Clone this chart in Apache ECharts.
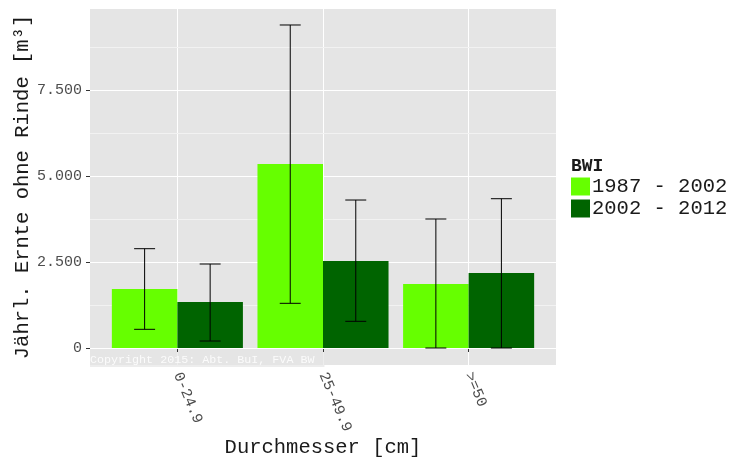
<!DOCTYPE html>
<html>
<head>
<meta charset="utf-8">
<script src="https://cdn.jsdelivr.net/npm/echarts@6/dist/echarts.min.js"></script>
<style>html,body{margin:0;padding:0;background:#fff}#c{width:731px;height:459px}</style>
</head>
<body>
<div id="c"></div>
<script>
var categories = ['0-24.9', '25-49.9', '>=50'];
var seriesNames = ['1987 - 2002', '2002 - 2012'];
var values1987 = [1715, 5349, 1860];
var low1987 = [543, 1299, 0];
var high1987 = [2887, 9390, 3750];
var values2002 = [1337, 2529, 2180];
var low2002 = [203, 776, 0];
var high2002 = [2442, 4302, 4340];
var yTicks = [0, 2500, 5000, 7500];
var yTickLabels = ['0', '2.500', '5.000', '7.500'];
var yMinorTicks = [1250, 3750, 6250, 8750];

var FONT = 'Liberation Mono';
var colors = ['#66ff00', '#006400'];
var barW = 0.45;
var whisker = 0.072;
var Y_MIN = -494, Y_MAX = 9855;

function barData(vals, side) {
  return vals.map(function (v, i) { return [i + 1, v, side]; });
}
function errData(lo, hi, side) {
  return lo.map(function (l, i) { return [i + 1 + side * barW / 2, l, hi[i]]; });
}
function renderBar(params, api) {
  var c = api.value(0), v = api.value(1), side = api.value(2);
  var x0 = side < 0 ? c - barW : c;
  var x1 = side < 0 ? c : c + barW;
  var p0 = api.coord([x0, v]);
  var p1 = api.coord([x1, 0]);
  return { type: 'rect', shape: { x: p0[0], y: p0[1], width: p1[0] - p0[0], height: p1[1] - p0[1] },
    style: { fill: api.visual('color') } };
}
function renderErr(params, api) {
  var x = api.value(0), lo = api.value(1), hi = api.value(2);
  var a = api.coord([x, hi]), b = api.coord([x, lo]);
  var l = api.coord([x - whisker, hi]), r = api.coord([x + whisker, hi]);
  var l2 = api.coord([x - whisker, lo]), r2 = api.coord([x + whisker, lo]);
  var st = { stroke: '#000', lineWidth: 1 };
  return { type: 'group', children: [
    { type: 'line', shape: { x1: a[0], y1: a[1], x2: b[0], y2: b[1] }, style: st },
    { type: 'line', shape: { x1: l[0], y1: l[1], x2: r[0], y2: r[1] }, style: st },
    { type: 'line', shape: { x1: l2[0], y1: l2[1], x2: r2[0], y2: r2[1] }, style: st }
  ] };
}

var chart = echarts.init(document.getElementById('c'));
chart.setOption({
  animation: false,
  backgroundColor: '#ffffff',
  textStyle: { fontFamily: FONT },
  grid: { left: 90, right: 175, top: 9, bottom: 94, show: true, backgroundColor: '#e5e5e5', borderWidth: 0,
    containLabel: false, outerBoundsMode: 'none' },
  xAxis: {
    type: 'value', min: 0.4, max: 3.6,
    axisLine: { show: false },
    axisTick: { show: true, length: 4, lineStyle: { color: '#333' }, customValues: [1, 2, 3] },
    axisLabel: { customValues: [1, 2, 3], formatter: function (v) { return categories[Math.round(v) - 1] || ''; },
      rotate: -67, fontSize: 15, color: '#4d4d4d', fontFamily: FONT, margin: 8, padding: [12, 0, 0, 0] },
    splitLine: { show: true, lineStyle: { color: '#ffffff', width: 1 } },
    name: 'Durchmesser [cm]', nameLocation: 'middle', nameGap: 72, nameMoveOverlap: false,
    nameTextStyle: { fontSize: 20.5, color: '#1a1a1a', fontFamily: FONT }
  },
  yAxis: [{
    type: 'value', min: Y_MIN, max: Y_MAX, z: 2,
    axisLine: { show: false },
    axisTick: { show: true, length: 4, lineStyle: { color: '#333' }, customValues: yTicks },
    axisLabel: { customValues: yTicks, formatter: function (v) { var i = yTicks.indexOf(v); return i >= 0 ? yTickLabels[i] : ''; },
      fontSize: 15, color: '#4d4d4d', fontFamily: FONT, margin: 8 },
    splitLine: { show: true, lineStyle: { color: '#ffffff', width: 1 } },
    name: 'Jährl. Ernte ohne Rinde [m³]', nameLocation: 'middle', nameGap: 57, nameRotate: 90, nameMoveOverlap: false,
    nameTextStyle: { fontSize: 20.5, color: '#1a1a1a', fontFamily: FONT }
  }, {
    type: 'value', min: Y_MIN, max: Y_MAX, position: 'left', z: 1,
    axisLine: { show: false },
    axisTick: { show: false, customValues: yMinorTicks },
    axisLabel: { show: false, customValues: yMinorTicks },
    splitLine: { show: true, lineStyle: { color: '#f2f2f2', width: 1 } }
  }],
  legend: {
    data: seriesNames, orient: 'vertical', left: 571, top: 176, icon: 'rect', padding: 0,
    itemWidth: 19, itemHeight: 18, itemGap: 1,
    textStyle: { fontSize: 20.5, fontFamily: FONT, color: '#1a1a1a', lineHeight: 18, padding: [0, 0, 0, -3] }
  },
  graphic: [
    { type: 'text', left: 571, top: 157, style: { text: 'BWI', fontSize: 18, fontWeight: 'bold', fontFamily: FONT, fill: '#1a1a1a' } },
    { type: 'text', left: 90, top: 352, z: 10, style: { text: 'Copyright 2015: Abt. BuI, FVA BW', fontSize: 11.7, fontFamily: FONT,
      fill: 'rgba(255,255,255,0.85)', backgroundColor: 'rgba(229,229,229,0.7)', padding: [2, 10, 1, 0] } }
  ],
  series: [
    { name: seriesNames[0], type: 'custom', renderItem: renderBar, data: barData(values1987, -1), itemStyle: { color: colors[0] }, encode: { x: 0, y: 1 } },
    { name: seriesNames[1], type: 'custom', renderItem: renderBar, data: barData(values2002, 1), itemStyle: { color: colors[1] }, encode: { x: 0, y: 1 } },
    { name: 'err1', type: 'custom', renderItem: renderErr, data: errData(low1987, high1987, -1), encode: { x: 0, y: [1, 2] }, z: 3 },
    { name: 'err2', type: 'custom', renderItem: renderErr, data: errData(low2002, high2002, 1), encode: { x: 0, y: [1, 2] }, z: 3 }
  ]
});
</script>
</body>
</html>
